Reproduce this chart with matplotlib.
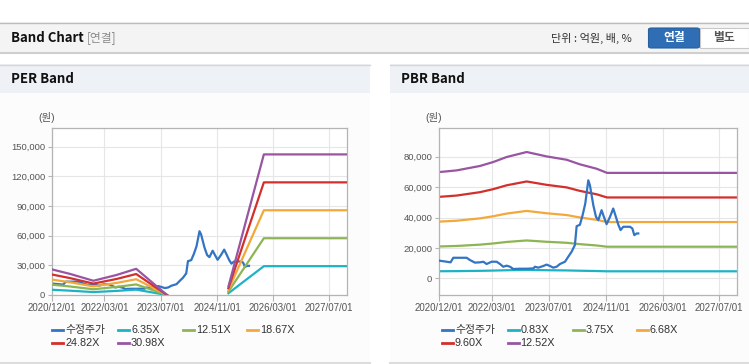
import numpy as np
import pandas as pd
import matplotlib
matplotlib.use('Agg')
import matplotlib.pyplot as plt
import matplotlib.dates as mdates
from matplotlib.patches import Rectangle, FancyBboxPatch
from matplotlib.lines import Line2D
from matplotlib.ticker import FuncFormatter

plt.rcParams['font.family'] = ['Liberation Sans', 'Noto Sans CJK KR', 'DejaVu Sans']

# adjusted close price (shared by both charts)
price_dates = ['2020-12-01', '2021-02-02', '2021-03-08', '2021-03-31', '2021-07-24', '2021-08-21',
               '2021-10-03', '2021-11-15', '2021-12-14', '2022-01-11', '2022-02-23', '2022-04-07',
               '2022-05-06', '2022-06-03', '2022-07-02', '2022-07-31', '2022-08-28', '2022-10-24',
               '2022-12-21', '2023-02-16', '2023-03-02', '2023-03-31', '2023-05-13', '2023-06-10',
               '2023-07-09', '2023-08-06', '2023-09-04', '2023-10-03', '2023-11-15', '2023-12-13',
               '2024-01-11', '2024-02-08', '2024-02-23', '2024-03-22', '2024-04-14', '2024-05-07',
               '2024-06-02', '2024-06-16', '2024-07-15', '2024-08-07', '2024-08-27', '2024-09-24',
               '2024-10-14', '2024-11-06', '2024-12-05', '2025-01-02', '2025-01-25', '2025-02-14',
               '2025-03-06', '2025-03-29', '2025-05-26', '2025-06-15', '2025-07-02', '2025-07-22',
               '2025-08-05']
price = [11600, 10900, 10500, 13500, 13500, 12000, 10300, 10500, 10900, 9400, 10900, 10900,
         9400, 7600, 8300, 7600, 6100, 6300, 6300, 6500, 7600, 7000, 8100, 9000,
         8100, 7000, 7600, 9400, 10900, 14200, 17500, 21900, 34300, 35200, 41500, 49200,
         64500, 61200, 48100, 40400, 38300, 44800, 40400, 35600, 40400, 45900, 40400, 35400,
         31700, 33900, 33900, 32800, 28400, 29500, 29500]

# PER band: EPS per date, gap while earnings are negative
per_dates = ['2020-12-01', '2021-05-05', '2021-11-25', '2022-06-15', '2022-12-01', '2023-08-25',
             '2024-05-01', '2025-02-08', '2025-12-12', '2027-12-10']
per_eps = [835, 690, 465, 655, 855, 0, np.nan, 280, 4590, 4590]
per_multiples = [6.35, 12.51, 18.67, 24.82, 30.98]

# PBR band: BPS per date
pbr_dates = ['2020-12-01', '2021-04-29', '2021-11-15', '2022-03-09', '2022-07-02', '2022-12-21',
             '2023-06-10', '2023-11-29', '2024-03-22', '2024-08-12', '2024-11-10', '2027-12-10']
pbr_bps = [5583, 5671, 5903, 6110, 6374, 6637, 6406, 6230, 5990, 5759, 5540, 5540]
pbr_multiples = [0.83, 3.75, 6.68, 9.60, 12.52]

tick_dates = ['2020/12/01', '2022/03/01', '2023/07/01', '2024/11/01', '2026/03/01', '2027/07/01']

price_color = '#3374c4'
band_colors = ['#1db3c5', '#8db553', '#f3a83b', '#d2302c', '#9955a2']

W, H = 749, 364
fig = plt.figure(figsize=(W / 100, H / 100), dpi=100)
fig.patch.set_facecolor('white')


def rect(x0, y0, x1, y1, color, z=0):
    fig.add_artist(Rectangle((x0 / W, 1 - y1 / H), (x1 - x0) / W, (y1 - y0) / H,
                             transform=fig.transFigure, facecolor=color, edgecolor='none', zorder=z))


def hline(x0, x1, y, color, lw=1.0):
    fig.add_artist(Line2D([x0 / W, x1 / W], [1 - y / H, 1 - y / H], transform=fig.transFigure,
                          color=color, lw=lw))


def text(x, y, s, **kw):
    fig.text(x / W, 1 - y / H, s, va='center', **kw)


# top header bar
rect(0, 22, W, 52, '#f4f4f4')
hline(0, W, 22.5, '#bdbdbd')
hline(0, W, 52.5, '#cfcfcf', lw=1.5)
text(11, 38, 'Band Chart', fontsize=9.5, fontweight='bold', color='#111111',
     family=['Noto Sans CJK KR', 'DejaVu Sans'])
text(87, 38, '[연결]', fontsize=8.5, color='#8a8a8a', family=['Noto Sans CJK KR', 'DejaVu Sans'])
text(551, 38, '단위 : 억원, 배, %', fontsize=8, color='#333333',
     family=['Noto Sans CJK KR', 'DejaVu Sans'])
fig.add_artist(FancyBboxPatch((648.5 / W, 1 - 48 / H), 51 / W, 20 / H,
                              boxstyle='round,pad=0,rounding_size=0.004',
                              transform=fig.transFigure, facecolor='#2f6eb5', edgecolor='#285f9e',
                              lw=0.8))
fig.add_artist(Rectangle((699.5 / W, 1 - 48 / H), 49 / W, 20 / H, transform=fig.transFigure,
                         facecolor='white', edgecolor='#c8c8c8', lw=0.8))
text(674, 38, '연결', fontsize=8.5, fontweight='bold', color='white', ha='center',
     family=['Noto Sans CJK KR', 'DejaVu Sans'])
text(724, 38, '별도', fontsize=8.5, fontweight='bold', color='#555555', ha='center',
     family=['Noto Sans CJK KR', 'DejaVu Sans'])

# panels
for x0, x1, title in [(0, 370, 'PER Band'), (390, W, 'PBR Band')]:
    rect(x0, 93, x1, 362, '#fcfcfc')
    rect(x0, 64, x1, 93, '#eef1f6')
    hline(x0, x1, 64.5, '#d6d6d6')
    hline(x0, x1, 362.5, '#dddddd', lw=1.5)
    text(x0 + 11, 79, title, fontsize=9.5, fontweight='bold', color='#111111',
         family=['Noto Sans CJK KR', 'DejaVu Sans'])

xmin = pd.Timestamp('2020-12-01')
xmax = pd.Timestamp('2027-12-03')
pdates = pd.to_datetime(price_dates)
tpos = pd.to_datetime([t.replace('/', '-') for t in tick_dates])


def style_axes(ax, ylim, yticks):
    ax.set_facecolor('white')
    ax.set_xlim(xmin, xmax)
    ax.set_ylim(*ylim)
    ax.set_xticks(tpos)
    ax.set_xticklabels(tick_dates)
    ax.set_yticks(yticks)
    ax.yaxis.set_major_formatter(FuncFormatter(lambda v, p: f'{int(v):,}'))
    ax.grid(True, color='#e6e6e6', lw=0.8)
    ax.set_axisbelow(True)
    for s in ax.spines.values():
        s.set_color('#b4b4b4')
        s.set_linewidth(0.9)
    ax.tick_params(axis='x', length=4, color='#b4b4b4', labelsize=7, labelcolor='#555555', pad=2)
    ax.tick_params(axis='y', length=3, color='#b4b4b4', labelsize=6.8, labelcolor='#555555', pad=2)


def legend(x_cols, labels, colors):
    ys = [330, 343]
    for i, (lab, col) in enumerate(zip(labels, colors)):
        x = x_cols[i % 4]
        y = ys[i // 4]
        fig.add_artist(Line2D([x / W, (x + 11) / W], [1 - y / H, 1 - y / H],
                              transform=fig.transFigure, color=col, lw=2))
        text(x + 13, y, lab, fontsize=7.8, color='#333333')


# PER
ax1 = fig.add_axes([52 / W, 69 / H, 295 / W, 167 / H])
style_axes(ax1, (0, 168900), [0, 30000, 60000, 90000, 120000, 150000])
ax1.plot(pdates, price, color=price_color, lw=1.6, zorder=2)
edates = pd.to_datetime(per_dates)
for m, c in zip(per_multiples, band_colors):
    ax1.plot(edates, np.array(per_eps) * m, color=c, lw=1.6, zorder=3)
text(38, 118, '(원)', fontsize=7.5, color='#555555')
legend([52, 118, 183, 247], ['수정주가'] + [f'{m:.2f}X' for m in per_multiples],
       [price_color] + band_colors)

# PBR
ax2 = fig.add_axes([439.3 / W, 69 / H, 298 / W, 166.7 / H])
style_axes(ax2, (-11000, 98700), [0, 20000, 40000, 60000, 80000])
ax2.plot(pdates, price, color=price_color, lw=1.6, zorder=3)
bdates = pd.to_datetime(pbr_dates)
for m, c in zip(pbr_multiples, band_colors):
    ax2.plot(bdates, np.array(pbr_bps) * m, color=c, lw=1.6, zorder=2)
text(425, 118, '(원)', fontsize=7.5, color='#555555')
legend([442, 507.5, 572.5, 637], ['수정주가'] + [f'{m:.2f}X' for m in pbr_multiples],
       [price_color] + band_colors)

fig.savefig('out.png', dpi=100)
